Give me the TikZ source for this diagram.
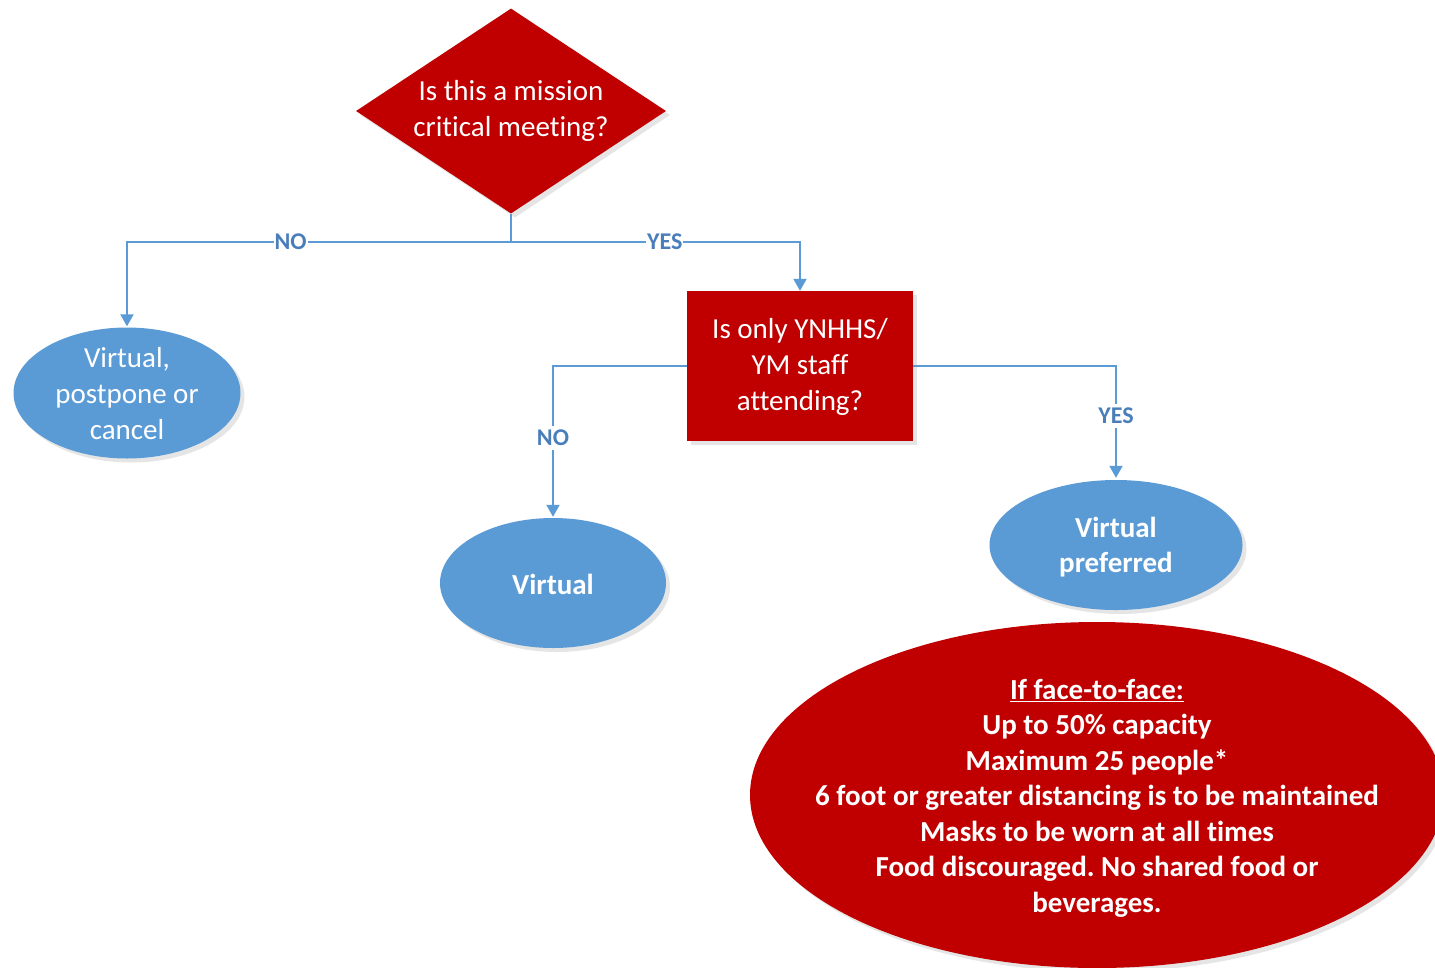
\documentclass[tikz,border=0pt]{standalone}
\usepackage{fontspec}
\setmainfont{Carlito}[Ligatures={NoCommon}]
\usetikzlibrary{shapes.geometric,arrows.meta,shadows}
\definecolor{cred}{HTML}{C00000}
\definecolor{cblue}{HTML}{5B9BD5}
\definecolor{clbl}{HTML}{4A7EBB}
\frenchspacing
\begin{document}
\begin{tikzpicture}[x=1pt,y=-1pt,
  shad/.style={drop shadow={opacity=0.2,shadow xshift=4pt,shadow yshift=-4pt,fill=black!50}},
  reddiam/.style={diamond,fill=cred,draw=none,inner sep=0pt,minimum width=310pt,minimum height=205pt,shad},
  redbox/.style={rectangle,fill=cred,draw=none,inner sep=0pt,minimum width=226pt,minimum height=150pt,shad},
  blueell/.style={ellipse,fill=cblue,draw=none,inner sep=0pt,shad},
  redell/.style={ellipse,fill=cred,draw=none,inner sep=0pt,shad},
  txt/.style={text=white,align=center,font=\fontsize{29}{36}\selectfont},
  btxt/.style={text=white,align=center,font=\fontsize{29}{35.5}\selectfont\bfseries},
  conn/.style={draw=cblue,line width=2pt,-{Triangle[width=13pt,length=12pt]}},
  lbl/.style={fill=white,text=clbl,inner xsep=1pt,inner ysep=4pt,font=\fontsize{24}{25}\selectfont\bfseries}
]
\useasboundingbox (0,0) rectangle (1435,967);
\clip (0,0) rectangle (1435,967);
\fill[white] (0,0) rectangle (1435,967);

% shapes
\node[reddiam] (q1) at (511,111) {};
\node[txt] (q1t) at (511,111) {Is this a mission\\critical meeting?};

\node[redbox] (q2) at (800,366) {};
\node[txt] (q2t) at (800,367) {Is only YNHHS/\\YM staff\\attending?};

\node[blueell,minimum width=227pt,minimum height=131pt] (v1) at (127,393) {};
\node[txt] (v1t) at (127,394) {Virtual,\\postpone or\\cancel};

\node[blueell,minimum width=226pt,minimum height=130pt] (v2) at (553,583) {};
\node[btxt] (v2t) at (553,584) {Virtual};

\node[blueell,minimum width=253pt,minimum height=130pt] (v3) at (1116,545) {};
\node[btxt] (v3t) at (1116,547) {Virtual\\preferred};

\node[redell,minimum width=694pt,minimum height=346pt] (big) at (1097,795) {};
\node[btxt] (bigt) at (1097,798) {\underline{If face-to-face:}\\Up to 50\% capacity\\Maximum 25 people*\\6 foot or greater distancing is to be maintained\\Masks to be worn at all times\\Food discouraged. No shared food or\\beverages.};

% connectors
\coordinate (j) at (q1.south |- 0,242);
\draw[draw=cblue,line width=2pt] (q1.south) -- (j);
\draw[conn] (j) -| node[lbl,pos=0.287] {NO} ([yshift=1pt]v1.north);
\draw[conn] (j) -| node[lbl,pos=0.266] {YES} (q2.north);
\draw[conn] (q2.west) -| node[lbl,pos=0.738] {NO} ([yshift=1pt]v2.north);
\draw[conn] (q2.east) -| node[lbl,pos=0.723] {YES} ([yshift=2pt]v3.north);
\end{tikzpicture}
\end{document}
